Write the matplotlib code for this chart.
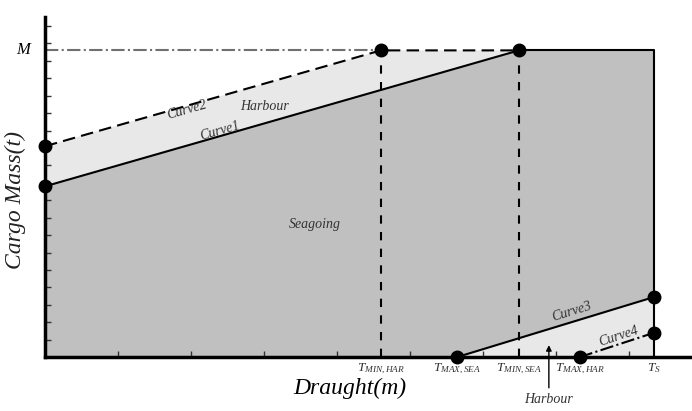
import matplotlib
matplotlib.use('Agg')
from matplotlib import pyplot as plt

plt.rcParams['font.family'] = 'Liberation Serif'
plt.rcParams['mathtext.fontset'] = 'custom'
plt.rcParams['mathtext.rm'] = 'Liberation Serif'
plt.rcParams['mathtext.it'] = 'Liberation Serif:italic'

# key draughts (x) and cargo masses (y), schematic units
t_min_har = 4.60
t_max_sea = 5.64
t_min_sea = 6.49
t_max_har = 7.32
t_s = 8.34
m_max = 17.6
curve1_y0 = 9.8
curve2_y0 = 12.1
curve3_ys = 3.45
curve4_ys = 1.4

tick_names = [r'$T_{MIN,HAR}$', r'$T_{MAX,SEA}$', r'$T_{MIN,SEA}$', r'$T_{MAX,HAR}$', r'$T_S$']
tick_pos = [t_min_har, t_max_sea, t_min_sea, t_max_har, t_s]

dark = '#c0c0c0'
light = '#e8e8e8'

fig = plt.figure(figsize=(6.92, 4.11), dpi=100)
ax = fig.add_axes([0.065, 0.131, 0.935, 0.827])
ax.set_xlim(0, 8.86)
ax.set_ylim(0, 19.5)

# harbour band above curve1
ax.fill([0, 0, t_min_har, t_min_sea], [curve1_y0, curve2_y0, m_max, m_max], color=light, lw=0, zorder=1)
# seagoing region
ax.fill([0, 0, t_min_sea, t_s, t_s, t_max_sea],
        [0, curve1_y0, m_max, m_max, curve3_ys, 0], color=dark, lw=0, zorder=1)
# harbour region below curve3
ax.fill([t_max_sea, t_s, t_s], [0, curve3_ys, 0], color=light, lw=0, zorder=1)

ax.plot([0, t_min_har], [m_max, m_max], '-.', color='#707070', lw=1.5, zorder=2)
ax.plot([0, t_min_sea], [curve1_y0, m_max], '-', color='black', lw=1.5, zorder=3)
ax.plot([0, t_min_har, t_min_sea], [curve2_y0, m_max, m_max], '--', color='black', lw=1.5, dashes=(6, 3), zorder=3)
ax.plot([t_min_sea, t_s, t_s], [m_max, m_max, 0], '-', color='black', lw=1.5, zorder=3)
ax.plot([t_min_har, t_min_har], [0, m_max], '--', color='black', lw=1.5, dashes=(4, 4), zorder=3)
ax.plot([t_min_sea, t_min_sea], [0, m_max], '--', color='black', lw=1.5, dashes=(4, 4), zorder=3)
ax.plot([t_max_sea, t_s], [0, curve3_ys], '-', color='black', lw=1.5, zorder=3)
ax.plot([t_max_har, t_s], [0, curve4_ys], '-.', color='black', lw=1.5, zorder=3)

ax.plot([0, 0, t_min_har, t_min_sea, t_s, t_s, t_max_sea, t_max_har],
        [curve1_y0, curve2_y0, m_max, m_max, curve3_ys, curve4_ys, 0, 0],
        'o', color='black', ms=9, clip_on=False, zorder=5)

txt = dict(style='italic', fontsize=10, color='#333333')
ax.text(1.95, 14.2, 'Curve2', rotation=16, ha='center', va='center', **txt)
ax.text(3.0, 14.4, 'Harbour', ha='center', va='center', **txt)
ax.text(2.4, 13.0, 'Curve1', rotation=16, ha='center', va='center', **txt)
ax.text(3.7, 7.6, 'Seagoing', ha='center', va='center', **txt)
ax.text(7.22, 2.6, 'Curve3', rotation=17, ha='center', va='center', **txt)
ax.text(7.85, 1.2, 'Curve4', rotation=18, ha='center', va='center', **txt)
ax.annotate('Harbour', xy=(6.9, 0.85), xytext=(6.9, -2.45), ha='center', va='center',
            arrowprops=dict(arrowstyle='-|>', color='black', lw=1, mutation_scale=8),
            annotation_clip=False, **txt)

for p, name in zip(tick_pos, tick_names):
    ax.text(p, -0.65, name, ha='center', va='center', fontsize=9.5, color='#333333')
ax.text(-0.2, m_max, 'M', ha='right', va='center', style='italic', fontsize=12)

ax.set_xticks(range(1, 9))
ax.set_yticks(range(1, 20))
ax.set_xticklabels([])
ax.set_yticklabels([])
ax.tick_params(direction='in', length=4, width=1, colors='#333333')
for s in ['top', 'right']:
    ax.spines[s].set_visible(False)
for s in ['left', 'bottom']:
    ax.spines[s].set_linewidth(2.5)
    ax.spines[s].set_zorder(4)

fig.text(350 / 692, 1 - 388 / 411, 'Draught(m)', ha='center', va='center', style='italic', fontsize=17)
fig.text(15 / 692, 1 - 200 / 411, 'Cargo Mass(t)', ha='center', va='center', rotation=90,
         style='italic', fontsize=17, color='#222222')

fig.savefig('out.png', dpi=100)
